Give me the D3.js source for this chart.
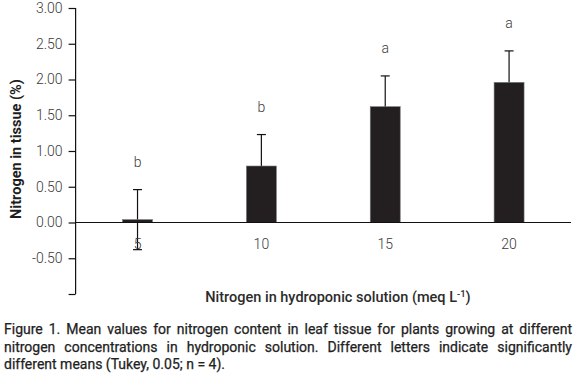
<!DOCTYPE html>
<html>
<head>
<meta charset="utf-8">
<script src="https://cdn.jsdelivr.net/npm/d3@7"></script>
<style>
  body { margin: 0; background: #fff; }
  #wrap { position: relative; width: 575px; height: 373px; overflow: hidden; }
  #caption {
    position: absolute; left: 4px; top: 321px; width: 568px;
    font-family: Roboto, sans-serif; font-size: 14px; font-weight: 400;
    line-height: 17.5px; color: #222;
    -webkit-text-stroke: 0.25px #222;
  }
  #caption div { white-space: nowrap; text-align: justify; text-align-last: justify; }
  #caption div.last { text-align-last: left; }
</style>
</head>
<body>
<div id="wrap">
  <svg id="chart" width="575" height="320"></svg>
  <div id="caption">
    <div>Figure 1. Mean values for nitrogen content in leaf tissue for plants growing at different</div>
    <div>nitrogen concentrations in hydroponic solution. Different letters indicate significantly</div>
    <div class="last">different means (Tukey, 0.05; n = 4).</div>
  </div>
</div>
<script>
// nitrogen in the hydroponic solution (meq/L)
var nitrogenLevels = ["5", "10", "15", "20"];
// mean nitrogen in leaf tissue (%)
var meanValues = [0.04, 0.79, 1.62, 1.96];
// error bars
var errorValues = [0.42, 0.44, 0.43, 0.44];
// Tukey letters
var groupLetters = ["b", "b", "a", "a"];
var yTicks = [-1, -0.5, 0, 0.5, 1, 1.5, 2, 2.5, 3];

var data = nitrogenLevels.map(function(d, i){
	return {level: d, mean: meanValues[i], err: errorValues[i], letter: groupLetters[i]};
});

var svg = d3.select("#chart");
var font = "Roboto, sans-serif";

var xScale = d3.scaleBand()
				.domain(nitrogenLevels)
				.range([75.6, 571])
				.padding(0);

var yScale = d3.scaleLinear()
				.domain([-1, 3])
				.range([294, 8]);

var barW = xScale.bandwidth() * 0.242;
function cx(d){ return xScale(d.level) + xScale.bandwidth() / 2; }

// y axis
var yAxis = svg.append("g")
			.attr("transform", "translate(75.6,0)")
			.call(d3.axisLeft(yScale)
					.tickValues(yTicks)
					.tickSize(7)
					.tickPadding(6)
					.tickFormat(function(d){ return d == -1 ? "" : d3.format(".2f")(d).replace("\u2212", "-"); }));
yAxis.select(".domain").attr("d", "M0," + yScale(-1) + "V" + yScale(3)).attr("stroke", "#111").attr("stroke-width", 1.2);
yAxis.selectAll(".tick line").attr("stroke", "#111").attr("stroke-width", 1.2);
yAxis.selectAll(".tick text")
	.attr("font-family", font)
	.attr("font-size", 14)
	.attr("font-weight", 300)
	.attr("fill", "#3a3a3a");

// error bars (drawn first, bars cover the inner part)
var eb = svg.selectAll("g.err")
			.data(data)
			.enter()
			.append("g")
			.attr("class", "err")
			.attr("stroke", "#111")
			.attr("stroke-width", 1.2);
eb.append("line")
	.attr("x1", cx).attr("x2", cx)
	.attr("y1", function(d){ return yScale(d.mean - d.err); })
	.attr("y2", function(d){ return yScale(d.mean + d.err); });
eb.append("line")
	.attr("x1", function(d){ return cx(d) - 4.5; })
	.attr("x2", function(d){ return cx(d) + 4.5; })
	.attr("y1", function(d){ return yScale(d.mean + d.err); })
	.attr("y2", function(d){ return yScale(d.mean + d.err); });
eb.append("line")
	.attr("x1", function(d){ return cx(d) - 4.5; })
	.attr("x2", function(d){ return cx(d) + 4.5; })
	.attr("y1", function(d){ return yScale(d.mean - d.err); })
	.attr("y2", function(d){ return yScale(d.mean - d.err); });

// bars
svg.selectAll("rect.bar")
	.data(data)
	.enter()
	.append("rect")
	.attr("class", "bar")
	.attr("x", function(d){ return cx(d) - barW / 2; })
	.attr("y", function(d){ return yScale(d.mean); })
	.attr("width", barW)
	.attr("height", function(d){ return yScale(0) - yScale(d.mean); })
	.attr("fill", "#231f20")
	.attr("stroke", "#777")
	.attr("stroke-width", 0.6);

// x axis line at zero
svg.append("line")
	.attr("x1", 75.6).attr("x2", 571)
	.attr("y1", yScale(0)).attr("y2", yScale(0))
	.attr("stroke", "#111")
	.attr("stroke-width", 1.2);

// x tick labels
svg.selectAll("text.xlab")
	.data(nitrogenLevels)
	.enter()
	.append("text")
	.attr("class", "xlab")
	.attr("x", function(d){ return xScale(d) + xScale.bandwidth() / 2; })
	.attr("y", yScale(0) + 26)
	.attr("text-anchor", "middle")
	.attr("font-family", font)
	.attr("font-size", 14)
	.attr("font-weight", 300)
	.attr("fill", "#3a3a3a")
	.text(function(d){ return d; });

// letters
svg.selectAll("text.letter")
	.data(data)
	.enter()
	.append("text")
	.attr("class", "letter")
	.attr("x", cx)
	.attr("y", function(d){ return yScale(d.mean + d.err) - 23; })
	.attr("text-anchor", "middle")
	.attr("font-family", font)
	.attr("font-size", 14)
	.attr("font-weight", 300)
	.attr("fill", "#3a3a3a")
	.text(function(d){ return d.letter; });

// axis titles
svg.append("text")
	.attr("transform", "translate(21,149) rotate(-90)")
	.attr("text-anchor", "middle")
	.attr("font-family", font)
	.attr("font-size", 14.5)
	.attr("font-weight", 700)
	.attr("fill", "#1e1e1e")
	.text("Nitrogen in tissue (%)");

var xt = svg.append("text")
	.attr("x", 338)
	.attr("y", 302)
	.attr("text-anchor", "middle")
	.attr("font-family", font)
	.attr("font-size", 14.5)
	.attr("font-weight", 500)
	.attr("fill", "#2b2b2b");
xt.append("tspan").text("Nitrogen in hydroponic solution (meq L");
xt.append("tspan").attr("dy", -5).attr("font-size", 9.5).text("-1");
xt.append("tspan").attr("dy", 5).text(")");
</script>
</body>
</html>
